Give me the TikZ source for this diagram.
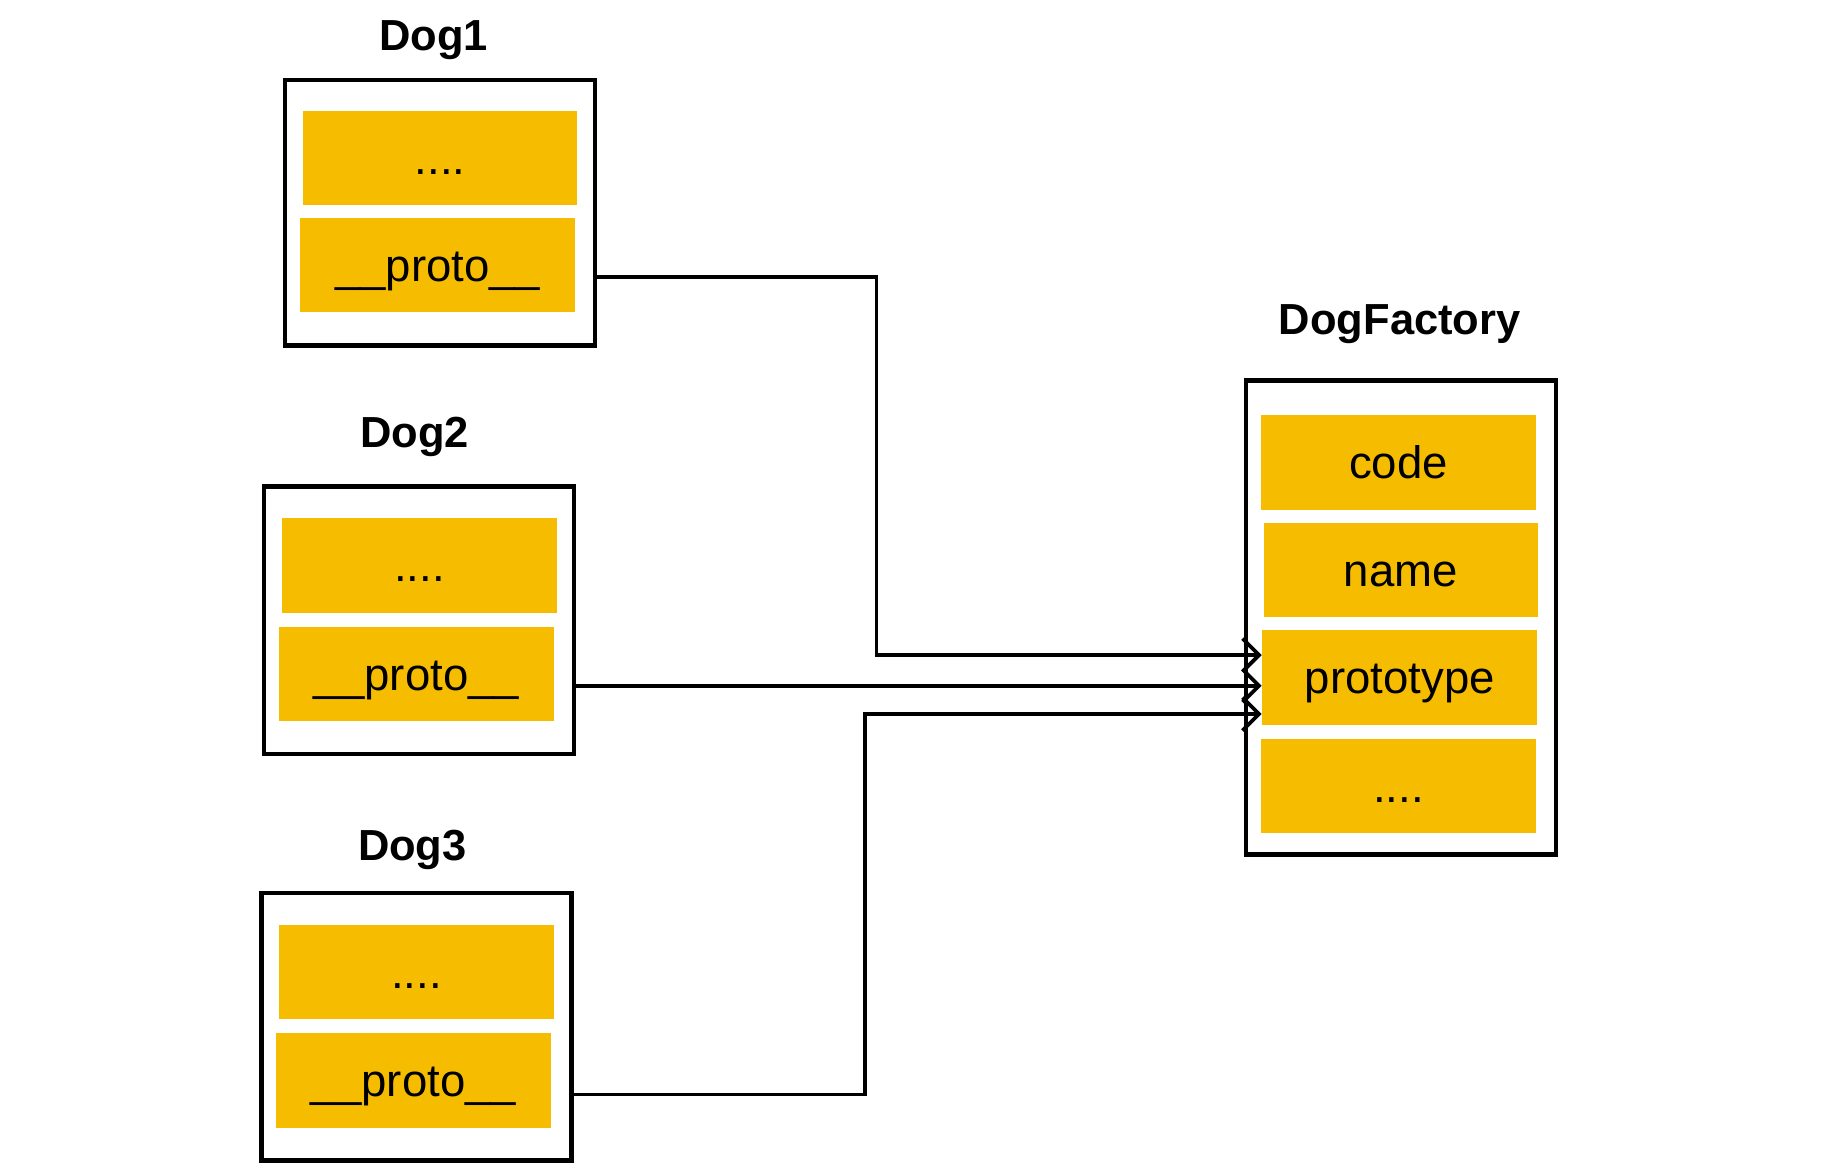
\documentclass[tikz,border=0pt]{standalone}
\usepackage{fontspec}
\setmainfont{Liberation Sans}
\usetikzlibrary{arrows.meta}
\definecolor{Y}{RGB}{246, 189, 0}

\tikzset{
  caja/.style={draw=black, line width=1.1pt, minimum width=2.63cm, inner sep=0pt},
  campo/.style={fill=Y, minimum width=2.33cm, minimum height=0.80cm, inner sep=0pt,
                text height=2ex, text depth=0.5ex, font=\fontsize{11}{13}\selectfont},
  titulo/.style={font=\bfseries\fontsize{10.5}{12}\selectfont},
  enlace/.style={draw=black, line width=0.9pt, -{Straight Barb[length=1.4mm, width=2.8mm]}}
}

\begin{document}
\begin{tikzpicture}
   \useasboundingbox (0,0) rectangle (15.6,-9.939);

   % Dog1
   \node[titulo] (t1) at (3.68,-0.34) {Dog1};
   \node[caja, minimum height=2.25cm] (d1) at (3.735,-1.805) {};
   \node[campo] (d1a) at (3.735,-1.34) {....};
   \node[campo] (d1p) at (3.715,-2.25) {\_\_proto\_\_};

   % Dog2
   \node[titulo] (t2) at (3.52,-3.71) {Dog2};
   \node[caja, minimum height=2.27cm] (d2) at (3.555,-5.265) {};
   \node[campo] (d2a) at (3.56,-4.80) {....};
   \node[campo] (d2p) at (3.535,-5.72) {\_\_proto\_\_};

   % Dog3
   \node[titulo] (t3) at (3.50,-7.21) {Dog3};
   \node[caja, minimum height=2.27cm] (d3) at (3.535,-8.715) {};
   \node[campo] (d3a) at (3.535,-8.25) {....};
   \node[campo] (d3p) at (3.51,-9.17) {\_\_proto\_\_};

   % DogFactory
   \node[titulo] (tf) at (11.88,-2.75) {DogFactory};
   \node[caja, minimum height=4.02cm] (f) at (11.89,-5.24) {};
   \node[campo] (fcode) at (11.87,-3.925) {code};
   \node[campo] (fname) at (11.89,-4.84) {name};
   \node[campo] (fproto) at (11.88,-5.75) {prototype};
   \node[campo] (fetc) at (11.87,-6.67) {....};

   % puntos de quiebre de las lineas
   \coordinate (q1) at (7.44,0);
   \coordinate (q3) at (7.34,0);

   % __proto__ -> prototype
   \draw[enlace] ([yshift=-0.10cm]d1p.center -| d1.east) -- ([yshift=-0.10cm]d1p.center -| q1)
         |- ([yshift=0.19cm]fproto.west);
   \draw[enlace] ([yshift=-0.10cm]d2p.center -| d2.east) -- ([yshift=-0.10cm]d2p.center -| fproto.west);
   \draw[enlace] ([yshift=-0.12cm]d3p.center -| d3.east) -- ([yshift=-0.12cm]d3p.center -| q3)
         |- ([yshift=-0.31cm]fproto.west);
\end{tikzpicture}
\end{document}
